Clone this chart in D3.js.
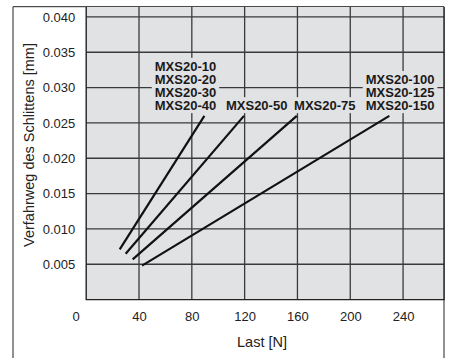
<!DOCTYPE html>
<html><head><meta charset="utf-8">
<script src="https://cdn.jsdelivr.net/npm/d3@7"></script>
<style>
html,body{margin:0;padding:0;background:#fff;}
svg{display:block;font-family:"Liberation Sans",Arial,Helvetica,sans-serif;}
</style></head>
<body>
<svg id="chart" width="451" height="358"></svg>
<script>
// ---- data ----
const xTicks = [40, 80, 120, 160, 200, 240];
const yTicks = [0.005, 0.010, 0.015, 0.020, 0.025, 0.030, 0.035, 0.040];
const seriesLabels = [
  ["MXS20-10", "MXS20-20", "MXS20-30", "MXS20-40"],
  ["MXS20-50"],
  ["MXS20-75"],
  ["MXS20-100", "MXS20-125", "MXS20-150"]
];
const loadStart = [25.4, 29.9, 35.2, 42.3];
const travelStart = [0.0071, 0.0065, 0.0057, 0.0048];
const loadEnd = [89.5, 119.5, 159.5, 229.6];
const travelEnd = [0.0260, 0.0260, 0.0260, 0.0260];

// ---- layout / style ----
const W = 451, H = 358;
const plot = {left: 86.2, right: 444, top: 7, bottom: 299.6};
const xMax = 271, yMax = 0.0414;
const plotFill = "#e1e2e4";
const gridColor = "#3a3a3a";
const labelDx = [-49.6, -18, -2.7, -23.6];
const labelBottomGap = 5.7;
const rowH = 13.1;

const svg = d3.select("#chart");
const x = d3.scaleLinear().domain([0, xMax]).range([plot.left, plot.right]);
const y = d3.scaleLinear().domain([0, yMax]).range([plot.bottom, plot.top]);

// outer frame
svg.append("path")
  .attr("d", `M13,${H + 2}V6.7H${plot.right}V${H + 2}`)
  .attr("fill", "none").attr("stroke", "#222").attr("stroke-width", 1);

// plot background
svg.append("rect")
  .attr("x", plot.left).attr("y", plot.top)
  .attr("width", plot.right - plot.left).attr("height", plot.bottom - plot.top)
  .attr("fill", plotFill);

// grid
const grid = svg.append("g").attr("stroke", gridColor).attr("stroke-width", 1.3);
grid.selectAll("line.v").data(xTicks).join("line").attr("class", "v")
  .attr("x1", d => x(d)).attr("x2", d => x(d)).attr("y1", plot.top).attr("y2", plot.bottom);
grid.selectAll("line.h").data(yTicks).join("line").attr("class", "h")
  .attr("x1", plot.left).attr("x2", plot.right).attr("y1", d => y(d)).attr("y2", d => y(d));

// plot border (left, bottom, right)
svg.append("path")
  .attr("d", `M${plot.left},${plot.top}V${plot.bottom}H${plot.right}V${plot.top}`)
  .attr("fill", "none").attr("stroke", "#222").attr("stroke-width", 1.4);

// axes via d3 axis (ticks hidden, only labels)
const xAxis = svg.append("g").attr("transform", `translate(0,${plot.bottom})`)
  .call(d3.axisBottom(x).tickValues(xTicks).tickSize(0).tickPadding(16).tickFormat(d3.format("d")));
const yAxis = svg.append("g").attr("transform", `translate(${plot.left},0)`)
  .call(d3.axisLeft(y).tickValues(yTicks).tickSize(0).tickPadding(11).tickFormat(d3.format(".3f")));
[xAxis, yAxis].forEach(a => {
  a.select(".domain").remove();
  a.selectAll("text").attr("font-size", 13).attr("fill", "#222")
    .attr("font-family", "Liberation Sans, Arial, sans-serif");
});
xAxis.selectAll("text").attr("dy", null).attr("y", 21.8);

// origin label
svg.append("text").attr("x", plot.left - 10).attr("y", plot.bottom + 21.8)
  .attr("text-anchor", "middle").attr("font-size", 13).attr("fill", "#222").text("0");

// axis titles
svg.append("text").attr("x", 262).attr("y", 347)
  .attr("text-anchor", "middle").attr("font-size", 14.5).attr("fill", "#222").text("Last [N]");
svg.append("text")
  .attr("transform", `translate(33.5,${145}) rotate(-90)`)
  .attr("text-anchor", "middle").attr("font-size", 14.5).attr("fill", "#222")
  .text("Verfahrweg des Schlittens [mm]");

// data lines
const lines = d3.range(loadStart.length).map(i => [[loadStart[i], travelStart[i]], [loadEnd[i], travelEnd[i]]]);
const lineGen = d3.line().x(d => x(d[0])).y(d => y(d[1]));
svg.append("g").selectAll("path").data(lines).join("path")
  .attr("d", lineGen).attr("fill", "none").attr("stroke", "#111")
  .attr("stroke-width", 2.2).attr("stroke-linecap", "butt");

// series labels
seriesLabels.forEach((rows, i) => {
  const g = svg.append("g");
  const x0 = x(loadEnd[i]) + labelDx[i];
  const lastBase = y(travelEnd[i]) - labelBottomGap;
  const bg = g.append("rect").attr("fill", plotFill);
  const t = g.append("text").attr("font-size", 13).attr("font-weight", "bold").attr("fill", "#1a1a1a")
    .attr("font-family", "Liberation Sans, Arial, sans-serif");
  rows.forEach((r, k) => {
    t.append("tspan").attr("x", x0).attr("y", lastBase - (rows.length - 1 - k) * rowH).text(r);
  });
  const bb = t.node().getBBox();
  bg.attr("x", bb.x - 3).attr("y", bb.y - 1).attr("width", bb.width + 6).attr("height", bb.height + 1);
});
</script>
</body></html>
